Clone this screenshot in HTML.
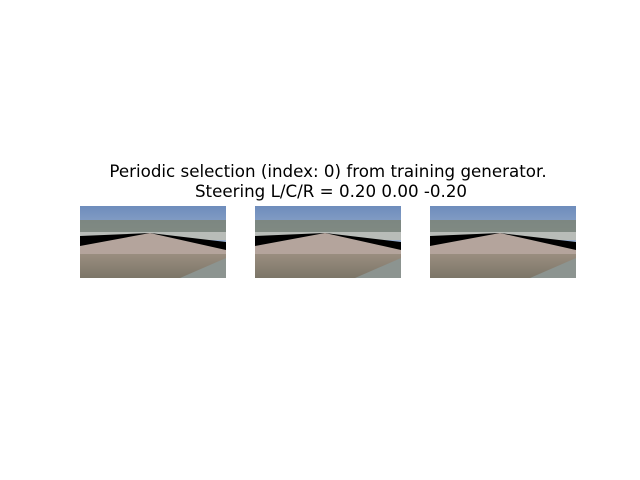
<!DOCTYPE html>
<html><head><meta charset="utf-8"><style>
body{margin:0;background:#fff;}
svg{display:block;}
text{font-family:"DejaVu Sans","Liberation Sans",sans-serif;}
</style></head><body>
<svg width="640" height="480" viewBox="0 0 640 480">
<defs>
<linearGradient id="sky" x1="0" y1="0" x2="0" y2="1">
<stop offset="0" stop-color="#6e8cbc"/><stop offset="1" stop-color="#c8d4e0"/></linearGradient>
<linearGradient id="ground" x1="0" y1="0" x2="0" y2="1">
<stop offset="0" stop-color="#9a8e80"/><stop offset="1" stop-color="#7c7668"/></linearGradient>
<g id="frame">
<rect x="0" y="0" width="146" height="72" fill="url(#sky)"/>
<rect x="0" y="14" width="146" height="14" fill="#7c8270" opacity="0.8"/>
<rect x="0" y="26" width="146" height="8" fill="#b8bcb8"/>
<polygon points="0,30 70,27 146,36 146,44 0,40" fill="#000"/>
<polygon points="0,40 70,27 146,44 146,52 0,48" fill="#b4a49c"/>
<rect x="0" y="48" width="146" height="24" fill="url(#ground)"/>
<polygon points="100,72 146,52 146,72" fill="#8c9490"/>
</g>
</defs>
<text x="328" y="177" text-anchor="middle" font-size="16.7">Periodic selection (index: 0) from training generator.</text>
<text x="331" y="197" text-anchor="middle" font-size="16.7">Steering L/C/R = 0.20 0.00 -0.20</text>
<use href="#frame" x="80" y="206"/>
<use href="#frame" x="255" y="206"/>
<use href="#frame" x="430" y="206"/>
</svg>
</body></html>
